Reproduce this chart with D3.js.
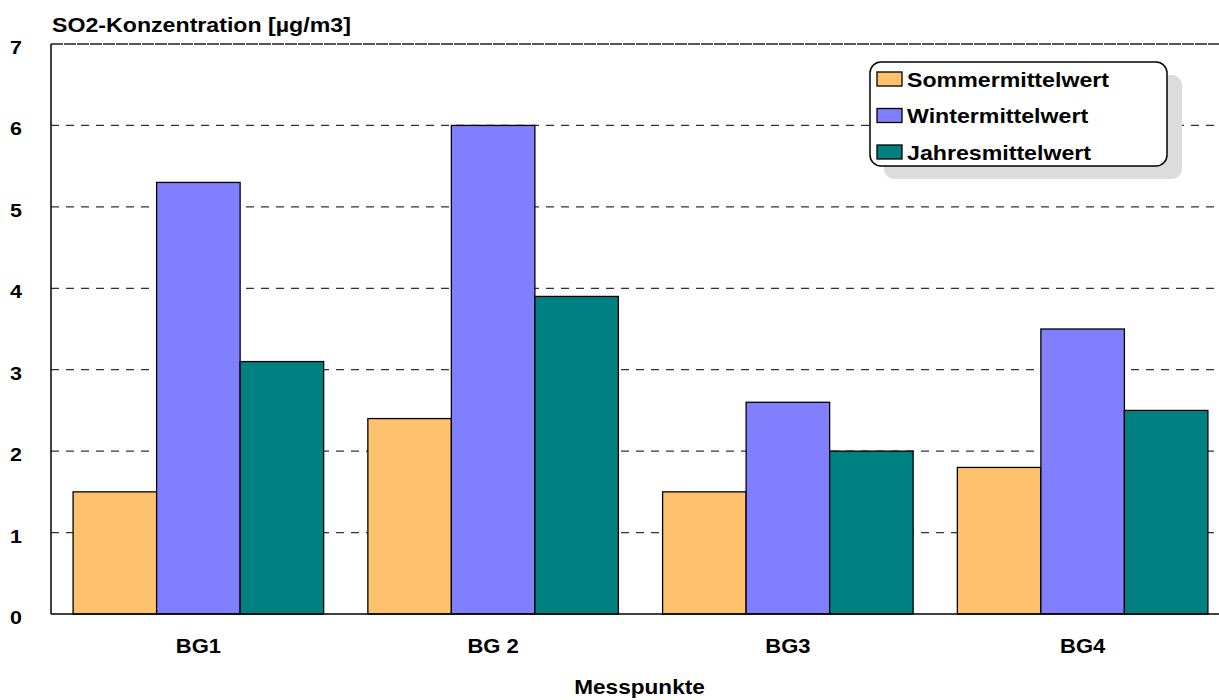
<!DOCTYPE html>
<html>
<head>
<meta charset="utf-8">
<script src="https://cdn.jsdelivr.net/npm/d3@7"></script>
<style>
  html, body { margin: 0; padding: 0; background: #fff; }
  svg { display: block; font-family: "Liberation Sans", Arial, sans-serif; }
</style>
</head>
<body>
<svg id="chart" width="1219" height="700"></svg>
<script>
// Messpunkte und Mittelwerte der SO2-Konzentration
const categories = ["BG1", "BG 2", "BG3", "BG4"];
const seriesNames = ["Sommermittelwert", "Wintermittelwert", "Jahresmittelwert"];
const sommer = [1.5, 2.4, 1.5, 1.8];
const winter = [5.3, 6.0, 2.6, 3.5];
const jahr   = [3.1, 3.9, 2.0, 2.5];
const yTicks = [0, 1, 2, 3, 4, 5, 6, 7];
const colors = ["#FFC26C", "#8080FF", "#008080"];

const seriesValues = [sommer, winter, jahr];
const rows = categories.map((c, i) => ({
  cat: c,
  values: seriesNames.map((s, k) => ({ key: s, value: seriesValues[k][i] }))
}));

const svg = d3.select("#chart");
const plot = { left: 51, right: 1230, top: 44, bottom: 614 };
const STRETCH = 1.13; // breite Schrift

const x0 = d3.scaleBand()
  .domain(categories)
  .range([plot.left, plot.right])
  .paddingInner(0.15)
  .paddingOuter(0.075);
const x1 = d3.scaleBand()
  .domain(seriesNames)
  .range([0, x0.bandwidth()]);
const y = d3.scaleLinear().domain([0, 7]).range([plot.bottom, plot.top]);
const color = d3.scaleOrdinal().domain(seriesNames).range(colors);

// Text mit horizontal gestreckter Schrift
function label(parent, x, yy, txt, size, anchor) {
  return parent.append("text")
    .attr("transform", `translate(${x},${yy}) scale(${STRETCH},1)`)
    .attr("text-anchor", anchor || "start")
    .attr("font-size", size)
    .attr("font-weight", "bold")
    .text(txt);
}

// Gitterlinien
svg.append("g")
  .selectAll("line")
  .data(yTicks.filter(t => t > 0 && t < 7))
  .join("line")
  .attr("x1", plot.left).attr("x2", plot.right)
  .attr("y1", d => y(d)).attr("y2", d => y(d))
  .attr("stroke", "#333")
  .attr("stroke-width", 1.2)
  .attr("stroke-dasharray", "8,7");

// Obere Begrenzung
svg.append("line")
  .attr("x1", plot.left).attr("x2", plot.right)
  .attr("y1", y(7)).attr("y2", y(7))
  .attr("stroke", "#222").attr("stroke-width", 1.5)
  .attr("stroke-dasharray", "12,1");

// Balken
svg.append("g")
  .selectAll("g")
  .data(rows)
  .join("g")
  .attr("transform", d => `translate(${x0(d.cat)},0)`)
  .selectAll("rect")
  .data(d => d.values)
  .join("rect")
  .attr("x", d => x1(d.key))
  .attr("y", d => y(d.value))
  .attr("width", x1.bandwidth())
  .attr("height", d => y(0) - y(d.value))
  .attr("fill", d => color(d.key))
  .attr("stroke", "#000")
  .attr("stroke-width", 1.3);

// Achsen
svg.append("line")
  .attr("x1", plot.left).attr("x2", plot.left)
  .attr("y1", plot.top).attr("y2", plot.bottom)
  .attr("stroke", "#000").attr("stroke-width", 1.5);
svg.append("line")
  .attr("x1", plot.left).attr("x2", plot.right)
  .attr("y1", plot.bottom).attr("y2", plot.bottom)
  .attr("stroke", "#000").attr("stroke-width", 1.5);

// Y-Beschriftung
const yLab = svg.append("g");
yTicks.forEach(t => label(yLab, 22, y(t) + 10, t, 19, "end"));

// X-Beschriftung
const xLab = svg.append("g");
categories.forEach(c => label(xLab, x0(c) + x0.bandwidth() / 2, 653, c, 19.5, "middle"));

label(svg, (plot.left + plot.right) / 2 - 1, 694, "Messpunkte", 20, "middle");
label(svg, 52, 32, "SO2-Konzentration [µg/m3]", 20.5, "start");

// Legende
const lg = svg.append("g").attr("transform", "translate(870,62)");
lg.append("rect")
  .attr("x", 14).attr("y", 13)
  .attr("width", 298).attr("height", 104)
  .attr("rx", 10)
  .attr("fill", "#dcdcdc");
lg.append("rect")
  .attr("x", 0).attr("y", 0)
  .attr("width", 297).attr("height", 104)
  .attr("rx", 11)
  .attr("fill", "#fff")
  .attr("stroke", "#000")
  .attr("stroke-width", 1.5);
seriesNames.forEach((s, i) => {
  const g = lg.append("g").attr("transform", `translate(7,${10 + i * 36.5})`);
  g.append("rect")
    .attr("width", 25).attr("height", 14)
    .attr("fill", color(s))
    .attr("stroke", "#000")
    .attr("stroke-width", 1.3);
  label(g, 30, 14.5, s, 20.5, "start");
});
</script>
</body>
</html>
